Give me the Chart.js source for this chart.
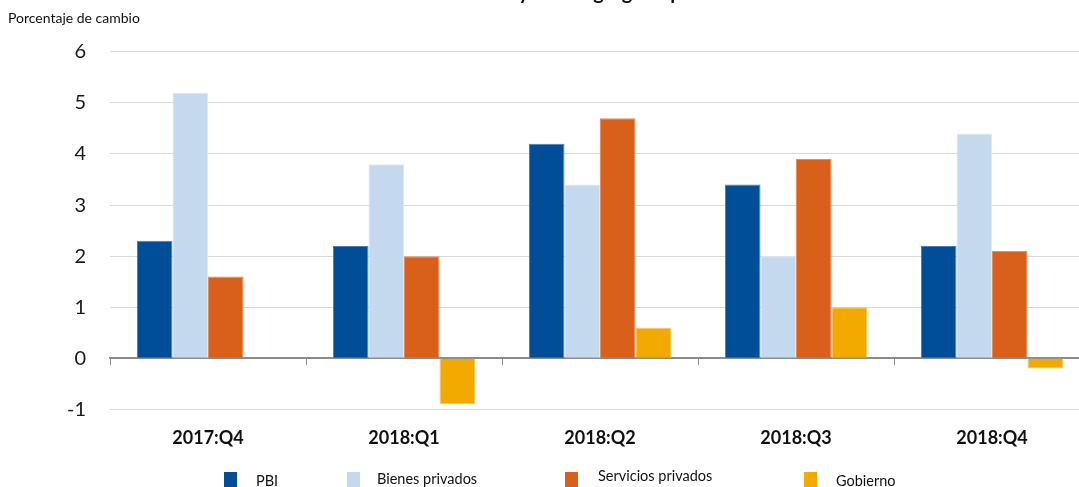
<!DOCTYPE html>
<html lang="es">
<head>
<meta charset="UTF-8">
<title>Crecimiento del PBI y valor agregado</title>
<script src="https://cdn.jsdelivr.net/npm/chart.js"></script>
<style>
    html, body { margin: 0; padding: 0; background: #fff; overflow: hidden; }
    body { width: 1079px; height: 487px; position: relative; font-family: Lato, sans-serif; }
    #wrap { position: absolute; left: 0; top: -19px; width: 1100px; height: 506px; }
    .leg { position: absolute; font-size: 14.5px; color: #111; white-space: nowrap; line-height: 1; }
    .box { position: absolute; width: 13px; height: 16px; }
</style>
</head>
<body>
<div id="wrap"><canvas id="chart"></canvas></div>
<div id="legend"></div>
<script>
    const categories = ['2017:Q4', '2018:Q1', '2018:Q2', '2018:Q3', '2018:Q4'];
    const pbi = [2.3, 2.2, 4.2, 3.4, 2.2];
    const bienes = [5.2, 3.8, 3.4, 2.0, 4.4];
    const servicios = [1.6, 2.0, 4.7, 3.9, 2.1];
    const gobierno = [0, -0.9, 0.6, 1.0, -0.2];
    const seriesNames = ['PBI', 'Bienes privados', 'Servicios privados', 'Gobierno'];
    const yTicks = [-1, 0, 1, 2, 3, 4, 5, 6];

    const colors = ['#004E98', '#C4D8EE', '#D9601A', '#F2AA00'];
    const edges = ['#4A7CB6', '#DCE8F5', '#E88C5C', '#F7C65A'];

    Chart.defaults.font.family = 'Lato, sans-serif';
    Chart.defaults.color = '#1a1a1a';

    const values = [pbi, bienes, servicios, gobierno];
    const datasets = values.map((v, i) => ({
        label: seriesNames[i],
        data: v,
        backgroundColor: colors[i],
        borderColor: edges[i],
        borderWidth: 1,
        barPercentage: 1,
        categoryPercentage: 0.725
    }));

    new Chart(document.getElementById('chart'), {
        type: 'bar',
        data: { labels: categories, datasets: datasets },
        options: {
            responsive: true,
            maintainAspectRatio: false,
            animation: false,
            layout: { padding: { left: 8, right: 10, bottom: 20 } },
            plugins: {
                legend: { display: false },
                tooltip: { enabled: false },
                title: {
                    display: true,
                    text: 'Crecimiento del PBI y valor agregado por sector',
                    font: { size: 20, weight: 'bold' },
                    color: '#111',
                    padding: { top: 0, bottom: 5 }
                },
                subtitle: {
                    display: true,
                    text: 'Porcentaje de cambio',
                    align: 'start',
                    font: { size: 14 },
                    color: '#111',
                    padding: { top: 0, bottom: 25 }
                }
            },
            scales: {
                x: {
                    grid: { display: false, drawTicks: false },
                    border: { display: false },
                    ticks: { font: { size: 18, weight: 'bold' }, color: '#111', padding: 18 }
                },
                x2: {
                    type: 'category',
                    position: { y: 0 },
                    offset: true,
                    grid: { drawOnChartArea: false, drawTicks: true, tickLength: 6, color: '#8c8c8c', offset: true },
                    border: { color: '#8c8c8c', width: 2 },
                    ticks: { display: false }
                },
                y: {
                    min: yTicks[0],
                    max: yTicks[yTicks.length - 1],
                    afterFit: s => { s.width = 102; },
                    afterBuildTicks: s => { s.ticks = yTicks.map(v => ({ value: v })); },
                    grid: {
                        drawTicks: false,
                        color: c => c.tick && c.tick.value === 0 ? 'rgba(0,0,0,0)' : '#d9d9d9'
                    },
                    border: { display: false },
                    ticks: { font: { size: 20 }, color: '#1a1a1a', padding: 24 }
                }
            }
        }
    });

    // leyenda en HTML, posiciones
    const legX = [224, 347, 565, 804];
    const legGap = [19, 17, 20, 19];
    const legTop = [474, 472, 469, 474];
    const legend = document.getElementById('legend');
    seriesNames.forEach((name, i) => {
        const b = document.createElement('div');
        b.className = 'box';
        b.style.left = legX[i] + 'px';
        b.style.top = '472px';
        b.style.background = colors[i];
        legend.appendChild(b);
        const t = document.createElement('div');
        t.className = 'leg';
        t.style.left = (legX[i] + 13 + legGap[i]) + 'px';
        t.style.top = legTop[i] + 'px';
        t.textContent = name;
        legend.appendChild(t);
    });
</script>
</body>
</html>
